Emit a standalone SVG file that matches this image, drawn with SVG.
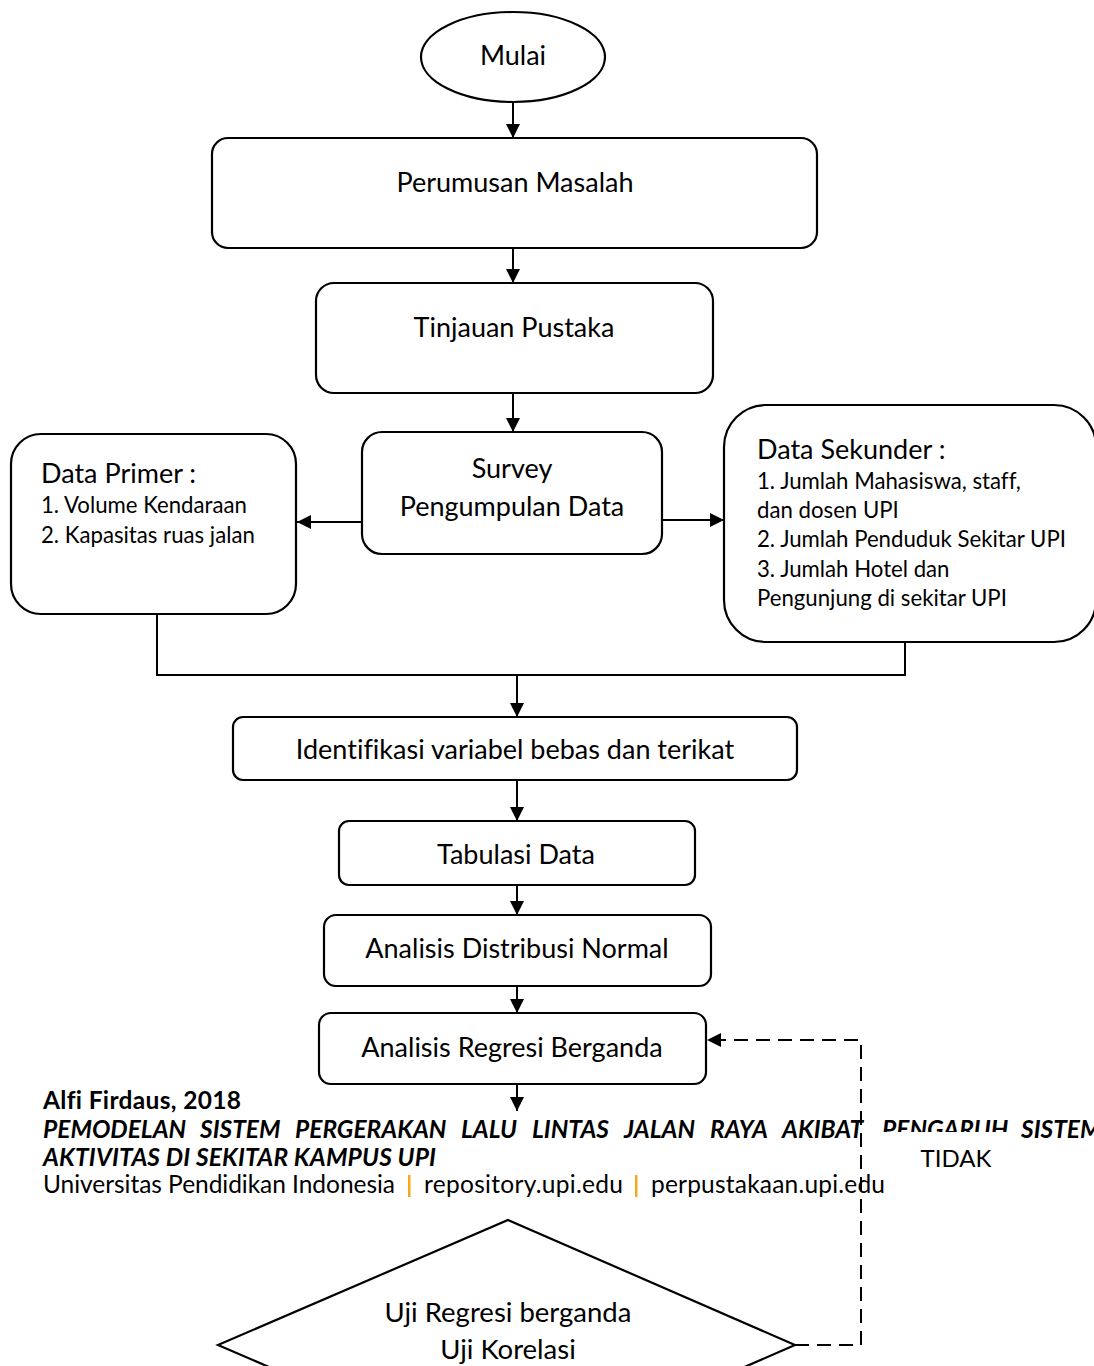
<svg xmlns="http://www.w3.org/2000/svg" width="1094" height="1366" viewBox="0 0 1094 1366">
  <style>
    text { font-variant-ligatures: none; }
    .box { fill: #fff; stroke: #000; stroke-width: 2.2; }
    .lbl { font-family: Lato, "Noto Sans", sans-serif; fill: #000; text-anchor: middle; }
    .big { font-size: 27px; }
    .item { font-family: Lato, "Noto Sans", sans-serif; font-size: 22.2px; fill: #000; }
    .head { font-family: Lato, "Noto Sans", sans-serif; font-size: 27px; fill: #000; }
    .wire { fill: none; stroke: #000; stroke-width: 2; }
    .dash { fill: none; stroke: #000; stroke-width: 2; stroke-dasharray: 14 8; }
    .foot { font-family: Lato, "Noto Sans", sans-serif; font-size: 24.5px; fill: #000; }
    .bi { font-weight: bold; font-style: italic; }
    .sep { fill: #f5a81c; }
  </style>
  <defs>
    <marker id="arr" markerWidth="15" markerHeight="15" refX="14" refY="7" orient="auto" markerUnits="userSpaceOnUse">
      <path d="M0,0 L14,7 L0,14 z" fill="#000"/>
    </marker>
  </defs>

  <rect width="1094" height="1366" fill="#fff"/>

  <!-- page footer -->
  <g id="footer">
    <text class="foot" x="43" y="1109" font-weight="bold" textLength="198" lengthAdjust="spacing">Alfi Firdaus, 2018</text>
    <!-- justified title line: one text per word; it runs past the right page edge -->
    <text class="foot bi" x="43" y="1138">PEMODELAN</text>
    <text class="foot bi" x="200" y="1138">SISTEM</text>
    <text class="foot bi" x="295" y="1138">PERGERAKAN</text>
    <text class="foot bi" x="461" y="1138">LALU</text>
    <text class="foot bi" x="532" y="1138">LINTAS</text>
    <text class="foot bi" x="624" y="1138">JALAN</text>
    <text class="foot bi" x="710" y="1138">RAYA</text>
    <text class="foot bi" x="782" y="1138">AKIBAT</text>
    <text class="foot bi" x="882" y="1138">PENGARUH</text>
    <text class="foot bi" x="1021" y="1138">SISTEM</text>
    <text class="foot bi" x="43" y="1166" textLength="393" lengthAdjust="spacing">AKTIVITAS DI SEKITAR KAMPUS UPI</text>
    <text class="foot" x="43" y="1193" textLength="352" lengthAdjust="spacing">Universitas Pendidikan Indonesia</text>
    <rect class="sep" x="408" y="1175" width="2.5" height="22"/>
    <text class="foot" x="424" y="1193" textLength="199" lengthAdjust="spacing">repository.upi.edu</text>
    <rect class="sep" x="635" y="1175" width="2.5" height="22"/>
    <text class="foot" x="651" y="1193" textLength="234" lengthAdjust="spacing">perpustakaan.upi.edu</text>
  </g>

  <!-- label of the "no" branch, on its own white patch -->
  <g id="label-tidak">
    <rect x="878" y="1132" width="136" height="43" fill="#fff"/>
    <text class="lbl" x="956" y="1167" font-size="24">TIDAK</text>
  </g>

  <g id="n-mulai">
    <ellipse class="box" cx="513" cy="57" rx="92" ry="45"/>
    <text class="lbl big" x="513" y="65">Mulai</text>
  </g>

  <g id="n-perumusan">
    <rect class="box" x="212" y="138" width="605" height="110" rx="16"/>
    <text class="lbl big" x="515" y="192">Perumusan Masalah</text>
  </g>

  <g id="n-tinjauan">
    <rect class="box" x="316" y="283" width="397" height="110" rx="18"/>
    <text class="lbl big" x="514" y="337">Tinjauan Pustaka</text>
  </g>

  <g id="n-survey">
    <rect class="box" x="362" y="432" width="300" height="122" rx="20"/>
    <text class="lbl big" x="512" y="478">Survey</text>
    <text class="lbl big" x="512" y="516">Pengumpulan Data</text>
  </g>

  <g id="n-primer">
    <rect class="box" x="11" y="434" width="285" height="180" rx="30"/>
    <text class="head" x="41" y="483">Data Primer :</text>
    <text class="item" x="41" y="513">1. Volume Kendaraan</text>
    <text class="item" x="41" y="543">2. Kapasitas ruas jalan</text>
  </g>

  <g id="n-sekunder">
    <rect class="box" x="724" y="405" width="372" height="237" rx="42"/>
    <text class="head" x="757" y="459">Data Sekunder :</text>
    <text class="item" x="757" y="489">1. Jumlah Mahasiswa, staff,</text>
    <text class="item" x="757" y="518">dan dosen UPI</text>
    <text class="item" x="757" y="547">2. Jumlah Penduduk Sekitar UPI</text>
    <text class="item" x="757" y="577">3. Jumlah Hotel dan</text>
    <text class="item" x="757" y="606">Pengunjung di sekitar UPI</text>
  </g>

  <g id="n-identifikasi">
    <rect class="box" x="233" y="717" width="564" height="63" rx="10"/>
    <text class="lbl big" x="515" y="759">Identifikasi variabel bebas dan terikat</text>
  </g>

  <g id="n-tabulasi">
    <rect class="box" x="339" y="821" width="356" height="64" rx="10"/>
    <text class="lbl big" x="516" y="864">Tabulasi Data</text>
  </g>

  <g id="n-distribusi">
    <rect class="box" x="324" y="915" width="387" height="71" rx="12"/>
    <text class="lbl big" x="517" y="958">Analisis Distribusi Normal</text>
  </g>

  <g id="n-regresi">
    <rect class="box" x="319" y="1013" width="387" height="71" rx="12"/>
    <text class="lbl big" x="512" y="1057">Analisis Regresi Berganda</text>
  </g>

  <g id="n-uji">
    <polygon class="box" points="508,1220 795,1345 508,1470 218,1345"/>
    <text class="lbl" font-size="27.5" x="508" y="1322">Uji Regresi berganda</text>
    <text class="lbl" font-size="27.5" x="508" y="1359">Uji Korelasi</text>
  </g>

  <g id="connectors">
    <line class="wire" x1="513" y1="102" x2="513" y2="138" marker-end="url(#arr)"/>
    <line class="wire" x1="513" y1="248" x2="513" y2="283" marker-end="url(#arr)"/>
    <line class="wire" x1="513" y1="393" x2="513" y2="432" marker-end="url(#arr)"/>
    <line class="wire" x1="362" y1="522" x2="297" y2="522" marker-end="url(#arr)"/>
    <line class="wire" x1="662" y1="520" x2="724" y2="520" marker-end="url(#arr)"/>
    <path class="wire" d="M157,614 V675 H905 V641"/>
    <line class="wire" x1="517" y1="675" x2="517" y2="717" marker-end="url(#arr)"/>
    <line class="wire" x1="517" y1="780" x2="517" y2="821" marker-end="url(#arr)"/>
    <line class="wire" x1="517" y1="885" x2="517" y2="915" marker-end="url(#arr)"/>
    <line class="wire" x1="517" y1="986" x2="517" y2="1013" marker-end="url(#arr)"/>
    <line class="wire" x1="517" y1="1084" x2="517" y2="1111" marker-end="url(#arr)"/>
    <path class="dash" d="M795,1345 H861 V1040 H707" marker-end="url(#arr)"/>
  </g>
</svg>
